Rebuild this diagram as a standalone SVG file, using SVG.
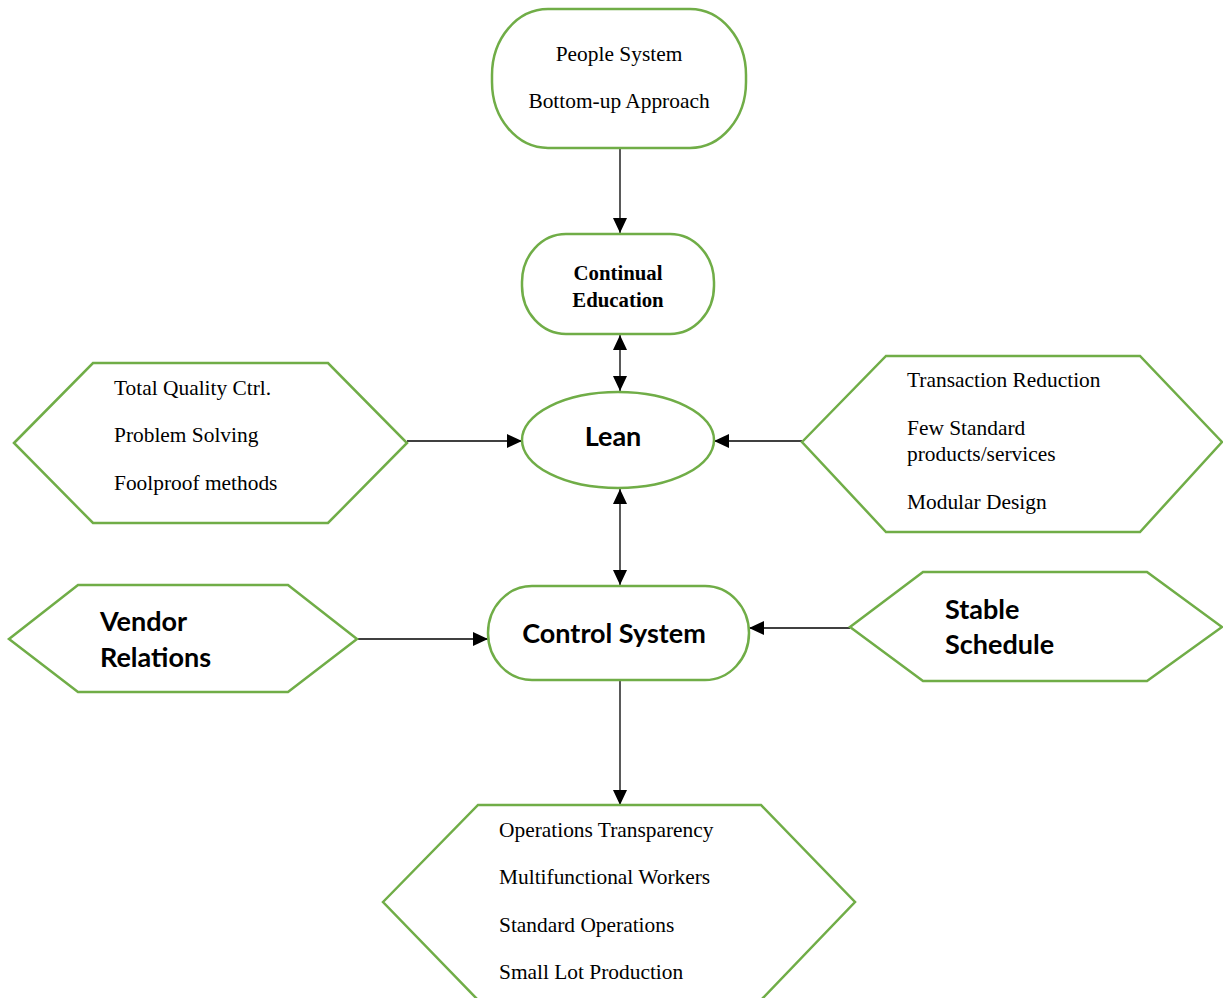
<svg xmlns="http://www.w3.org/2000/svg" width="1223" height="998" viewBox="0 0 1223 998">
<style>
.shape{fill:#fff;stroke:#70AD47;stroke-width:2.5}
.serif{font-family:"Liberation Serif","Times New Roman",serif;font-size:21.4px;fill:#000}
.serifb{font-family:"Liberation Serif","Times New Roman",serif;font-size:20.8px;font-weight:bold;fill:#000}
.sansb{font-family:Lato,"Liberation Sans",sans-serif;font-weight:bold;font-size:27px;fill:#000}
.conn{stroke:#000;stroke-width:1.3;fill:none}
</style>
<defs>
<marker id="ah" viewBox="0 0 15 14" refX="15" refY="7" markerWidth="15" markerHeight="14" markerUnits="userSpaceOnUse" orient="auto-start-reverse">
<path d="M0,0 L15,7 L0,14 Z" fill="#000"/>
</marker>
</defs>
<rect width="1223" height="998" fill="#fff"/>
<g id="connectors">
<line class="conn" x1="620" y1="148" x2="620" y2="233" marker-end="url(#ah)"/>
<line class="conn" x1="620" y1="335" x2="620" y2="391" marker-start="url(#ah)" marker-end="url(#ah)"/>
<line class="conn" x1="407" y1="441" x2="522" y2="441" marker-end="url(#ah)"/>
<line class="conn" x1="802" y1="441" x2="714" y2="441" marker-end="url(#ah)"/>
<line class="conn" x1="620" y1="489" x2="620" y2="585" marker-start="url(#ah)" marker-end="url(#ah)"/>
<line class="conn" x1="357" y1="639" x2="488" y2="639" marker-end="url(#ah)"/>
<line class="conn" x1="850" y1="628" x2="749" y2="628" marker-end="url(#ah)"/>
<line class="conn" x1="620" y1="680" x2="620" y2="805" marker-end="url(#ah)"/>
</g>
<g id="people-system">
<rect class="shape" x="492" y="9" width="254" height="139" rx="56" ry="66"/>
<text class="serif" x="619" y="61" text-anchor="middle">People System</text>
<text class="serif" x="619" y="108" text-anchor="middle">Bottom-up Approach</text>
</g>
<g id="continual-education">
<rect class="shape" x="522" y="234" width="192" height="100" rx="44" ry="48"/>
<text class="serifb" x="618" y="280" text-anchor="middle">Continual</text>
<text class="serifb" x="618" y="307" text-anchor="middle">Education</text>
</g>
<g id="lean">
<ellipse class="shape" cx="618" cy="440" rx="96" ry="48"/>
<text class="sansb" x="613" y="446" text-anchor="middle">Lean</text>
</g>
<g id="quality">
<polygon class="shape" points="14,443 93,363 328,363 407,443 328,523 93,523"/>
<text class="serif" x="114" y="395">Total Quality Ctrl.</text>
<text class="serif" x="114" y="442">Problem Solving</text>
<text class="serif" x="114" y="490">Foolproof methods</text>
</g>
<g id="transaction">
<polygon class="shape" points="802,442 886,356 1140,356 1222,442 1140,532 886,532"/>
<text class="serif" x="907" y="387">Transaction Reduction</text>
<text class="serif" x="907" y="435">Few Standard</text>
<text class="serif" x="907" y="461">products/services</text>
<text class="serif" x="907" y="509">Modular Design</text>
</g>
<g id="control-system">
<rect class="shape" x="488" y="586" width="261" height="94" rx="44" ry="47"/>
<text class="sansb" x="614" y="643" text-anchor="middle">Control System</text>
</g>
<g id="vendor">
<polygon class="shape" points="9,639 78,585 288,585 357,639 288,692 78,692"/>
<text class="sansb" x="100" y="631">Vendor</text>
<text class="sansb" x="100" y="667">Relations</text>
</g>
<g id="stable">
<polygon class="shape" points="850,627 923,572 1147,572 1222,627 1147,681 923,681"/>
<text class="sansb" x="945" y="619">Stable</text>
<text class="sansb" x="945" y="654">Schedule</text>
</g>
<g id="operations">
<polygon class="shape" points="383,902 478,805 761,805 855,902 761,1000 478,1000"/>
<text class="serif" x="499" y="837">Operations Transparency</text>
<text class="serif" x="499" y="884">Multifunctional Workers</text>
<text class="serif" x="499" y="932">Standard Operations</text>
<text class="serif" x="499" y="979">Small Lot Production</text>
</g>
</svg>
